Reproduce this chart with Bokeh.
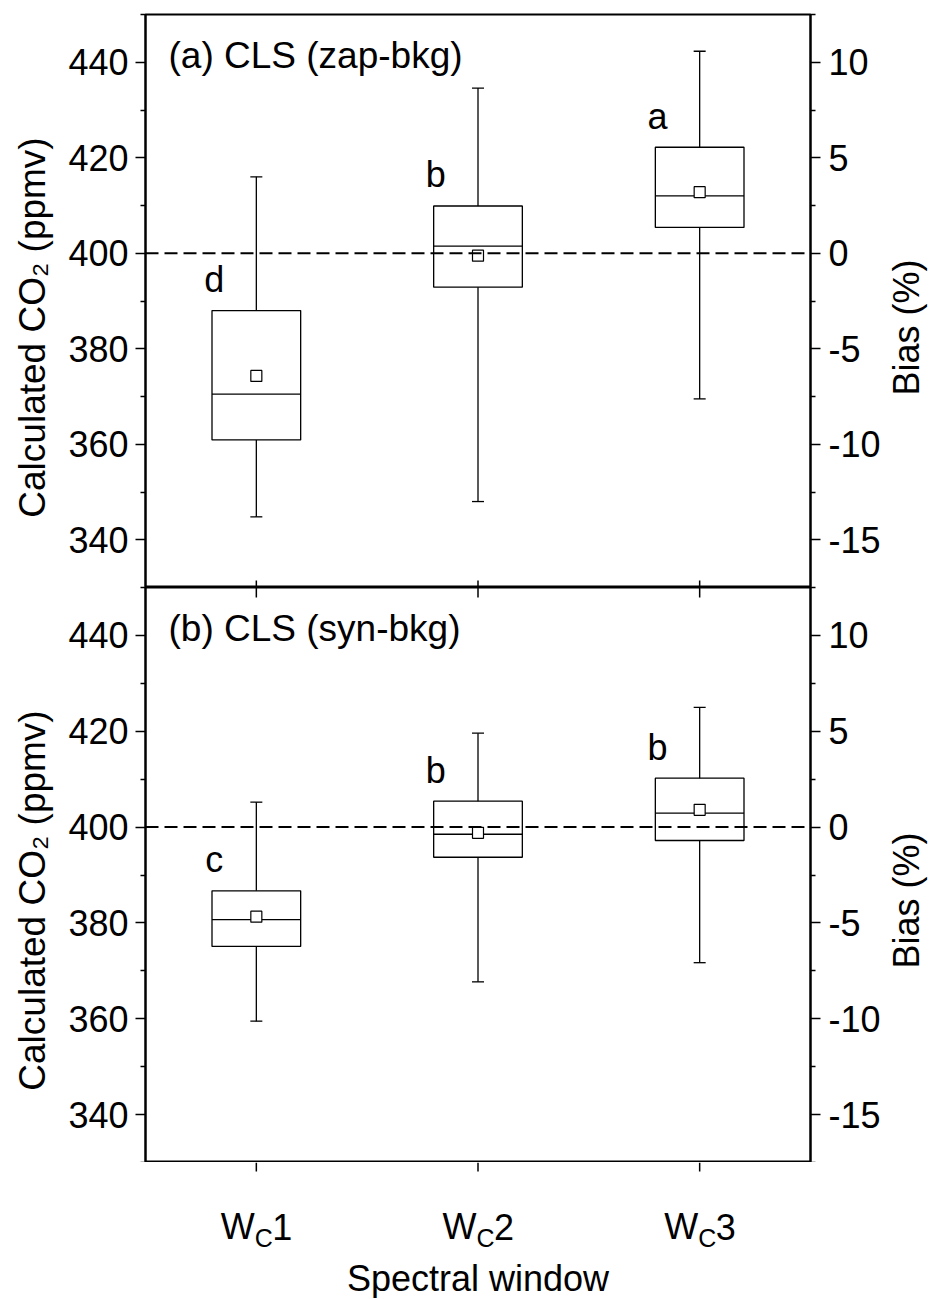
import math
from bokeh.plotting import figure
from bokeh.layouts import column, row
from bokeh.models import Range1d, LinearAxis, FixedTicker, Span
from bokeh.embed import file_html
from bokeh.resources import INLINE
from bokeh.core.properties import value

# ---------------- data ----------------
categories = ["W", "W", "W"]          # tick label body, subscript and digit below
cat_sub = ["C", "C", "C"]
cat_digit = ["1", "2", "3"]
cat_x = [1, 2, 3]

# panel (a) CLS (zap-bkg), ppmv
a_min = [344.8, 348.0, 369.5]
a_q1 = [360.9, 392.9, 405.4]
a_med = [370.5, 401.5, 412.0]
a_q3 = [388.0, 409.9, 422.2]
a_max = [416.0, 434.6, 442.3]
a_mean = [374.3, 399.5, 412.8]
a_letters = ["d", "b", "a"]

# panel (b) CLS (syn-bkg), ppmv
b_min = [359.5, 367.7, 371.7]
b_q1 = [375.1, 393.7, 397.2]
b_med = [380.7, 398.5, 402.9]
b_q3 = [386.7, 405.4, 410.2]
b_max = [405.2, 419.6, 425.0]
b_mean = [381.3, 398.8, 403.6]
b_letters = ["c", "b", "b"]

ref_ppm = 400
y_ticks = [340, 360, 380, 400, 420, 440]
y_minor = [330, 350, 370, 390, 410, 430, 450]
bias_ticks = [-15, -10, -5, 0, 5, 10]
bias_minor = [-17.5, -12.5, -7.5, -2.5, 2.5, 7.5, 12.5]

# ---------------- layout ----------------
FONT = "Liberation Sans"
FS = "36px"
W = 929
LW_FIG, RW_FIG = 55, 45           # side strips holding the rotated axis titles
FL, FR = 145, 810                 # frame left / right (page px)
TOP, MID, BOT = 14, 587, 1162     # frame top, panel border, frame bottom
H3 = 136                          # strip below for category labels
Y0, Y1 = 330, 450
X0, X1 = 0.5, 3.5
px_per_x = (FR - FL) / (X1 - X0)
BOX_HALF = 0.2
CAP_HALF = 6 / px_per_x

x_range = Range1d(X0, X1)


def blank(p):
    p.xgrid.visible = False
    p.ygrid.visible = False
    p.outline_line_color = None
    p.background_fill_color = "white"
    p.border_fill_color = "white"


def make_panel(height, mtop):
    p = figure(width=W - LW_FIG - RW_FIG, height=height, x_range=x_range, y_range=Range1d(Y0, Y1),
               output_backend="svg", toolbar_location=None, x_axis_location=None,
               min_border_left=FL - LW_FIG, min_border_right=W - RW_FIG - FR,
               min_border_top=mtop, min_border_bottom=0)
    blank(p)
    p.outline_line_color = "black"
    p.outline_line_width = 2
    p.extra_y_ranges = {"bias": Range1d((Y0 - ref_ppm) / ref_ppm * 100, (Y1 - ref_ppm) / ref_ppm * 100)}
    rax = LinearAxis(y_range_name="bias")
    p.add_layout(rax, "right")
    p.yaxis[0].ticker = FixedTicker(ticks=y_ticks, minor_ticks=y_minor)
    rax.ticker = FixedTicker(ticks=bias_ticks, minor_ticks=bias_minor)
    rax.major_label_overrides = {t: str(t) for t in bias_ticks}
    for ax in [p.yaxis[0], rax]:
        ax.axis_line_width = 2
        ax.major_tick_line_width = 1.5
        ax.minor_tick_line_width = 1.5
        ax.major_tick_out = 10
        ax.major_tick_in = 0
        ax.minor_tick_out = 5
        ax.minor_tick_in = 0
        ax.major_label_text_font = FONT
        ax.major_label_text_font_size = FS
        ax.major_label_text_color = "black"
        ax.major_label_standoff = 7
    rax.major_label_standoff = 8
    return p


def side_strip(width, height, mtop, y_range, xc, text, fs):
    s = figure(width=width, height=height, x_range=Range1d(0, width), y_range=y_range,
               output_backend="svg", toolbar_location=None,
               x_axis_location=None, y_axis_location=None,
               min_border_left=0, min_border_right=0, min_border_top=mtop, min_border_bottom=0)
    blank(s)
    frame_h = height - mtop
    yc = Y1 - 313 * (Y1 - Y0) / frame_h
    s.text(x=[xc], y=[yc], text=[text], angle=math.pi / 2, text_font=value(FONT),
           text_font_size=fs, text_align="center", text_baseline="middle", text_color="black")
    return s


def draw_boxes(p, vmin, q1, med, q3, vmax, mean, letters, title, frame_h):
    ppm_per_px = (Y1 - Y0) / frame_h
    p.add_layout(Span(location=ref_ppm, dimension="width", line_color="black",
                      line_width=2, line_dash="13 6"))
    lw = 1.3
    p.segment(x0=cat_x, x1=cat_x, y0=q3, y1=vmax, line_color="black", line_width=lw)
    p.segment(x0=cat_x, x1=cat_x, y0=vmin, y1=q1, line_color="black", line_width=lw)
    p.segment(x0=[c - CAP_HALF for c in cat_x], x1=[c + CAP_HALF for c in cat_x],
              y0=vmax, y1=vmax, line_color="black", line_width=lw)
    p.segment(x0=[c - CAP_HALF for c in cat_x], x1=[c + CAP_HALF for c in cat_x],
              y0=vmin, y1=vmin, line_color="black", line_width=lw)
    p.quad(left=[c - BOX_HALF for c in cat_x], right=[c + BOX_HALF for c in cat_x],
           bottom=q1, top=q3, fill_alpha=0, line_color="black", line_width=lw)
    p.segment(x0=[c - BOX_HALF for c in cat_x], x1=[c + BOX_HALF for c in cat_x],
              y0=med, y1=med, line_color="black", line_width=lw)
    p.scatter(x=cat_x, y=mean, marker="square", size=11, fill_color="white",
              line_color="black", line_width=1.2)
    p.text(x=[c - 0.19 for c in cat_x], y=[v + 31 * ppm_per_px for v in q3], text=letters,
           text_font=value(FONT), text_font_size=FS, text_align="center",
           text_baseline="alphabetic", text_color="black")
    p.text(x=[X0 + 23 / px_per_x], y=[Y1 - 41 * ppm_per_px], text=[title],
           text_font=value(FONT), text_font_size="37px", text_align="left",
           text_baseline="alphabetic", text_color="black")
    return ppm_per_px


# top panel
p1 = make_panel(MID, TOP)
r1 = draw_boxes(p1, a_min, a_q1, a_med, a_q3, a_max, a_mean, a_letters, "(a) CLS (zap-bkg)", MID - TOP)
p1.segment(x0=cat_x, x1=cat_x, y0=[Y0] * 3, y1=[Y0 + 7 * r1] * 3, line_color="black", line_width=1.5)
L1 = side_strip(LW_FIG, MID, TOP, p1.y_range, 32, "Calculated CO\u2082 (ppmv)", "37px")
R1 = side_strip(RW_FIG, MID, TOP, p1.y_range, 906 - (W - RW_FIG), "Bias (%)", FS)

# bottom panel
p2 = make_panel(BOT - MID, 0)
r2 = draw_boxes(p2, b_min, b_q1, b_med, b_q3, b_max, b_mean, b_letters, "(b) CLS (syn-bkg)", BOT - MID)
p2.segment(x0=cat_x, x1=cat_x, y0=[Y1] * 3, y1=[Y1 - 10 * r2] * 3, line_color="black", line_width=1.5)
L2 = side_strip(LW_FIG, BOT - MID, 0, p2.y_range, 32, "Calculated CO\u2082 (ppmv)", "37px")
R2 = side_strip(RW_FIG, BOT - MID, 0, p2.y_range, 906 - (W - RW_FIG), "Bias (%)", FS)

# strip below: x ticks, category labels W_C1.. and axis title (y = px below frame bottom, negative)
p3 = figure(width=W, height=H3, x_range=x_range, y_range=Range1d(-H3, 0),
            output_backend="svg", toolbar_location=None, x_axis_location=None, y_axis_location=None,
            min_border_left=FL, min_border_right=W - FR, min_border_top=0, min_border_bottom=0)
blank(p3)
p3.segment(x0=cat_x, x1=cat_x, y0=[0] * 3, y1=[-9] * 3, line_color="black", line_width=1.5)
p3.text(x=cat_x, y=[-64] * 3, x_offset=-35.5, text=categories, text_font=value(FONT),
        text_font_size=FS, text_align="left", text_baseline="alphabetic", text_color="black")
p3.text(x=cat_x, y=[-75] * 3, x_offset=-1.5, text=cat_sub, text_font=value(FONT),
        text_font_size="25px", text_align="left", text_baseline="alphabetic", text_color="black")
p3.text(x=cat_x, y=[-64] * 3, x_offset=16, text=cat_digit, text_font=value(FONT),
        text_font_size=FS, text_align="left", text_baseline="alphabetic", text_color="black")
p3.text(x=[(X0 + X1) / 2], y=[-116], text=["Spectral window"], text_font=value(FONT),
        text_font_size=FS, text_align="center", text_baseline="alphabetic", text_color="black")

layout = column(row(L1, p1, R1, spacing=0), row(L2, p2, R2, spacing=0), p3, spacing=0)
open("out.html", "w").write(file_html(layout, INLINE))
